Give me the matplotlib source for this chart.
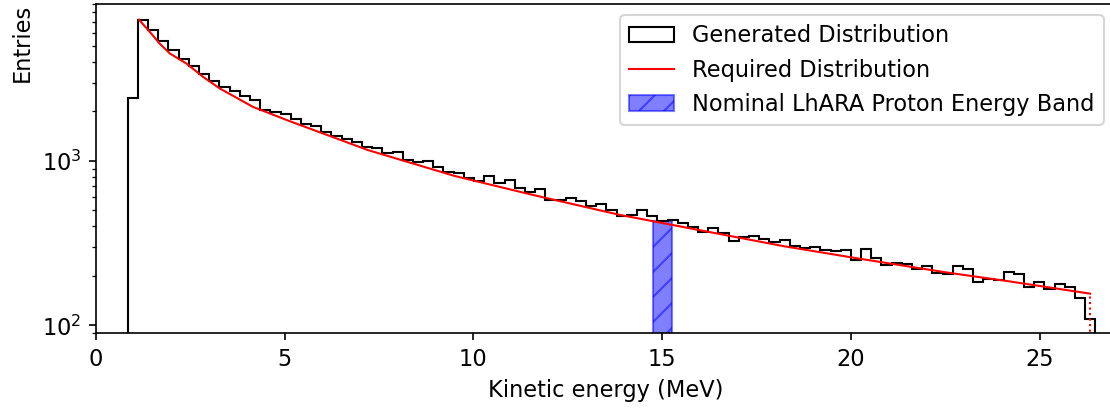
import numpy as np
import matplotlib
matplotlib.use("Agg")
import matplotlib.pyplot as plt

# histogram of generated protons
e_min, e_max, n_bins = 0.84, 26.48, 95
counts = [
    2418, 7230, 6220, 5335, 4710, 4190, 3767, 3366, 3055, 2820,
    2655, 2477, 2345, 2056, 1990, 1927, 1790, 1668, 1630, 1505,
    1423, 1354, 1310, 1211, 1194, 1113, 1139, 1014, 982, 1004,
    924, 861, 842, 785, 760, 815, 739, 767, 689, 651,
    673, 581, 581, 594, 573, 534, 549, 505, 464, 471,
    500, 464, 433, 439, 422, 395, 370, 391, 367, 327,
    345, 351, 335, 320, 332, 303, 296, 300, 289, 282,
    286, 251, 292, 257, 234, 240, 237, 221, 229, 207,
    204, 231, 221, 183, 192, 190, 211, 205, 171, 183,
    167, 179, 171, 147, 110,
]

# required spectrum
req_energy = [1.14, 1.43, 1.69, 1.96, 2.40, 2.84, 3.28, 4.16, 5.13, 7.20,
              9.50, 11.57, 13.86, 15.93, 18.23, 20.30, 22.59, 24.22, 26.34]
req_entries = [7230, 6080, 5164, 4500, 3908, 3244, 2760, 2132, 1747, 1166,
               811, 622, 471, 382, 303, 253, 209, 185, 156]

# nominal LhARA band
band_centre = 15.0
band_width = 0.5
band_height = 430

plt.rcParams["font.size"] = 10.8

fig = plt.figure(figsize=(7.4, 2.72), dpi=150)
ax = fig.add_axes([0.0865, 0.184, 0.918, 0.806])

edges = np.linspace(e_min, e_max, n_bins + 1)
centres = 0.5 * (edges[:-1] + edges[1:])
ax.hist(centres, bins=edges, weights=counts, histtype="step", log=True,
        color="black", lw=1.0, label="Generated Distribution")
ax.plot(req_energy, req_entries, color="red", lw=1.0,
        label="Required Distribution")
ax.vlines(req_energy[-1], 1, req_entries[-1], colors="red", lw=1.0,
          linestyles=":")
ax.bar(band_centre, band_height, width=band_width, color="blue", alpha=0.5,
       hatch="//", edgecolor="blue", label="Nominal LhARA Proton Energy Band")

ax.set_yscale("log")
ax.set_xlim(0, 27)
ax.set_ylim(90, 9000)
ax.set_xlabel("Kinetic energy (MeV)")
ax.set_ylabel("Entries", loc="top")
ax.legend(loc="upper right")

fig.savefig("out.png", dpi=150)
